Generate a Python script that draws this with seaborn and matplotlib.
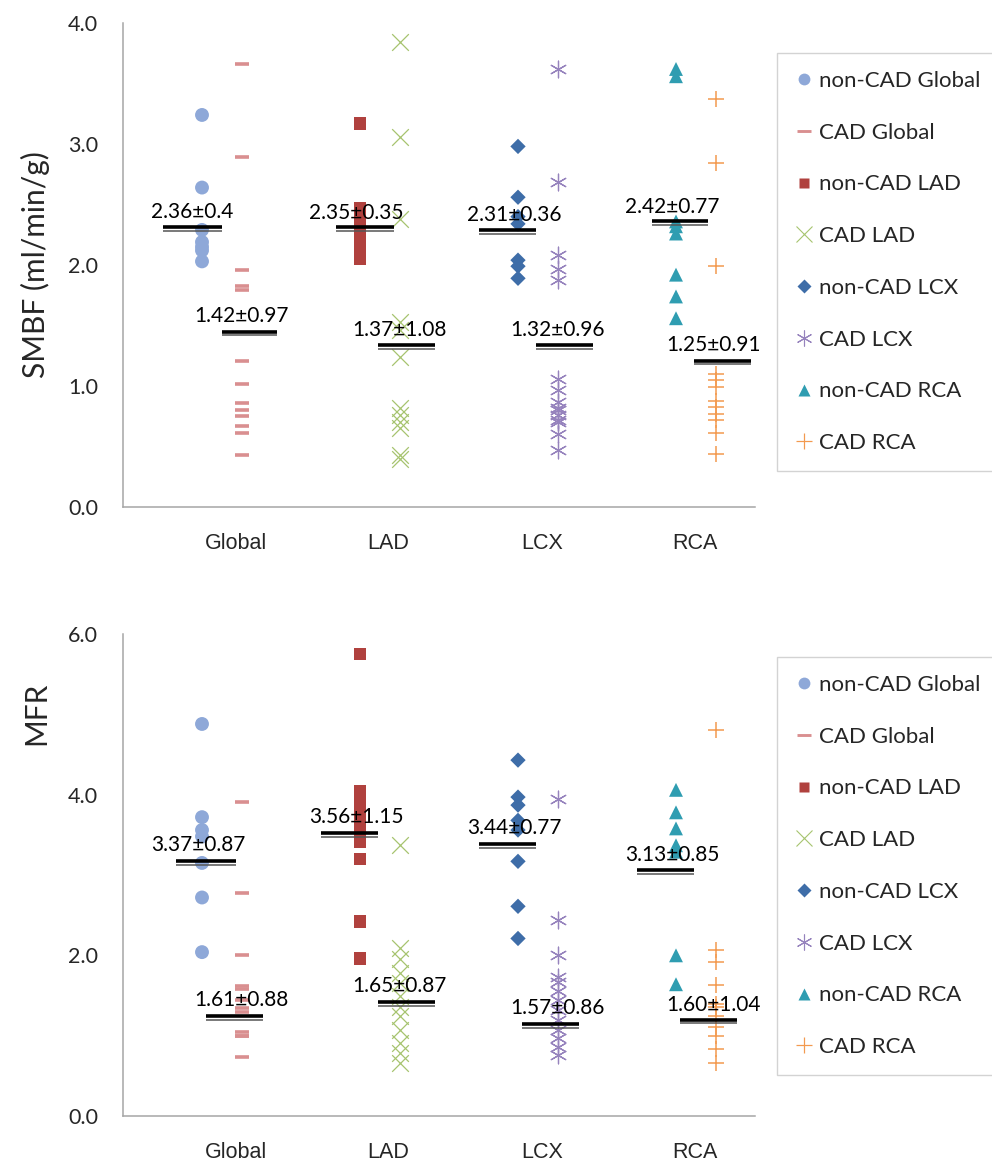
import numpy as np
import pandas as pd
import matplotlib
matplotlib.use("Agg")
import matplotlib.pyplot as plt
import seaborn as sns
from matplotlib.lines import Line2D
from matplotlib import transforms, font_manager
from matplotlib.ticker import FormatStrFormatter

# ---------------- data ----------------
categories = ["Global", "LAD", "LCX", "RCA"]
series_names = ["non-CAD Global", "CAD Global", "non-CAD LAD", "CAD LAD",
                "non-CAD LCX", "CAD LCX", "non-CAD RCA", "CAD RCA"]
series_x = [0.4, 0.6, 1.2, 1.4, 2.0, 2.2, 2.8, 3.0]

# SMBF (ml/min/g)
smbf_noncad_global = [3.24, 2.64, 2.29, 2.19, 2.15, 2.12, 2.03]
smbf_cad_global = [3.66, 2.89, 1.96, 1.83, 1.79, 1.21, 1.02, 0.86, 0.80, 0.75, 0.67, 0.61, 0.43]
smbf_noncad_lad = [3.17, 2.47, 2.40, 2.33, 2.28, 2.22, 2.16, 2.10, 2.05]
smbf_cad_lad = [3.84, 3.06, 2.38, 1.53, 1.46, 1.24, 0.82, 0.76, 0.70, 0.65, 0.43, 0.40]
smbf_noncad_lcx = [2.98, 2.56, 2.40, 2.34, 2.04, 1.99, 1.89]
smbf_cad_lcx = [3.62, 2.69, 2.08, 1.97, 1.88, 1.06, 0.97, 0.87, 0.82, 0.80, 0.76, 0.72, 0.70, 0.60, 0.47]
smbf_noncad_rca = [3.62, 3.56, 2.36, 2.32, 2.26, 1.92, 1.74, 1.56]
smbf_cad_rca = [3.37, 2.84, 1.99, 1.10, 1.05, 0.99, 0.88, 0.83, 0.77, 0.72, 0.61, 0.44]
smbf_stat_labels = ["2.36±0.4", "1.42±0.97", "2.35±0.35", "1.37±1.08",
                    "2.31±0.36", "1.32±0.96", "2.42±0.77", "1.25±0.91"]
smbf_mean_marks = [2.31, 1.45, 2.31, 1.34, 2.29, 1.34, 2.36, 1.21]

# MFR
mfr_noncad_global = [4.88, 3.72, 3.56, 3.48, 3.15, 2.72, 2.04]
mfr_cad_global = [3.91, 2.77, 2.00, 1.62, 1.58, 1.44, 1.34, 1.30, 1.05, 1.00, 0.99, 0.74]
mfr_noncad_lad = [5.75, 4.05, 3.97, 3.85, 3.71, 3.56, 3.41, 3.20, 2.42, 1.96]
mfr_cad_lad = [3.37, 2.09, 1.96, 1.78, 1.65, 1.49, 1.36, 1.24, 1.07, 0.91, 0.78, 0.66]
mfr_noncad_lcx = [4.43, 3.97, 3.87, 3.68, 3.56, 3.17, 2.61, 2.21]
mfr_cad_lcx = [3.95, 2.44, 2.00, 1.73, 1.67, 1.55, 1.44, 1.32, 1.20, 1.07, 0.97, 0.86, 0.76]
mfr_noncad_rca = [4.06, 3.78, 3.58, 3.37, 3.29, 2.00, 1.64]
mfr_cad_rca = [4.81, 2.07, 1.92, 1.63, 1.40, 1.36, 1.24, 1.11, 0.99, 0.84, 0.66]
mfr_stat_labels = ["3.37±0.87", "1.61±0.88", "3.56±1.15", "1.65±0.87",
                   "3.44±0.77", "1.57±0.86", "3.13±0.85", "1.60±1.04"]
mfr_mean_marks = [3.17, 1.24, 3.52, 1.42, 3.39, 1.15, 3.06, 1.20]

smbf_values = [smbf_noncad_global, smbf_cad_global, smbf_noncad_lad, smbf_cad_lad,
               smbf_noncad_lcx, smbf_cad_lcx, smbf_noncad_rca, smbf_cad_rca]
mfr_values = [mfr_noncad_global, mfr_cad_global, mfr_noncad_lad, mfr_cad_lad,
              mfr_noncad_lcx, mfr_cad_lcx, mfr_noncad_rca, mfr_cad_rca]

# ---------------- styles / layout ----------------
colors = ["#8EA8D8", "#D98F90", "#B0413E", "#A6C46F",
          "#3E6DA8", "#9683BD", "#2F9DB1", "#F39A4F"]
markers = ["o", "_", "s", "x", "D", (6, 2, 0), "^", "+"]
msizes = [10.0, 10.5, 8.8, 12.0, 7.8, 12.0, 10.0, 11.5]   # points
mlw = [0, 2.6, 0, 0.9, 0, 0.9, 0, 1.1]

cat_label_pos = [0.57, 1.345, 2.12, 2.895]
smbf_line_spans = [(0.20, 0.50), (0.50, 0.78), (1.08, 1.37), (1.29, 1.58),
                   (1.80, 2.09), (2.09, 2.38), (2.68, 2.96), (2.89, 3.18)]
mfr_line_spans = [(0.27, 0.57), (0.42, 0.71), (1.00, 1.29), (1.29, 1.58),
                  (1.80, 2.09), (2.02, 2.31), (2.60, 2.89), (2.82, 3.11)]
smbf_text_pos = [(0.35, 2.44), (0.60, 1.58), (1.18, 2.43), (1.40, 1.46),
                 (1.98, 2.41), (2.20, 1.46), (2.78, 2.48), (2.99, 1.34)]
mfr_text_pos = [(0.38, 3.37), (0.60, 1.44), (1.18, 3.72), (1.40, 1.62),
                (1.98, 3.58), (2.20, 1.34), (2.78, 3.25), (2.99, 1.38)]

sns.set_theme(style="white")
plt.rcParams["font.family"] = ["Lato", "DejaVu Sans"]
installed = {f.name for f in font_manager.fontManager.ttflist}
narrow = "Liberation Sans Narrow" if "Liberation Sans Narrow" in installed else "Liberation Sans"

spine_col = "#A6A6A6"

W, H = 992, 1165
fig = plt.figure(figsize=(W / 100, H / 100), dpi=100)
ax1 = fig.add_axes([123 / W, 1 - 507 / H, 632 / W, 484 / H])
ax2 = fig.add_axes([123 / W, 1 - 1116 / H, 632 / W, 482 / H])


def draw_panel(ax, values, stat_labels, mean_marks, spans, text_pos, ylim, yticks,
               ylabel, ylabel_y, legend_top):
    frames = []
    for name, xv, vals in zip(series_names, series_x, values):
        frames.append(pd.DataFrame({"x": [xv] * len(vals), "value": vals, "series": name}))
    df = pd.concat(frames, ignore_index=True)

    for i, name in enumerate(series_names):
        sub = df[df["series"] == name]
        m = markers[i]
        filled = matplotlib.markers.MarkerStyle(m).is_filled()
        kw = dict(data=sub, x="x", y="value", ax=ax, marker=m, s=msizes[i] ** 2,
                  color=colors[i], zorder=3, legend=False)
        if filled:
            kw.update(edgecolor="none", linewidth=0)
        else:
            kw.update(linewidth=mlw[i])
        sns.scatterplot(**kw)

    offset = transforms.offset_copy(ax.transData, fig=fig, y=-2.8, units="points")
    for (x0, x1), yv in zip(spans, mean_marks):
        ax.plot([x0, x1], [yv, yv], color="black", lw=2.6, solid_capstyle="butt", zorder=4)
        ax.plot([x0, x1], [yv, yv], color="#555555", lw=1.1, solid_capstyle="butt",
                transform=offset, zorder=4)
    for (tx, ty), lab in zip(text_pos, stat_labels):
        ax.text(tx, ty, lab, ha="center", va="center", fontsize=15, color="black", zorder=5)

    ax.set_xlim(0, 3.2)
    ax.set_ylim(*ylim)
    ax.set_yticks(yticks)
    ax.yaxis.set_major_formatter(FormatStrFormatter("%.1f"))
    ax.set_xticks([0, 1, 2, 3])
    ax.set_xticklabels([])
    ax.set_xticks(cat_label_pos, minor=True)
    ax.set_xticklabels(categories, minor=True, fontsize=15.5, family=narrow)
    ax.tick_params(axis="x", which="minor", length=0, pad=19)
    ax.tick_params(axis="x", which="major", length=6, width=1, color=spine_col, direction="out")
    ax.tick_params(axis="y", which="major", length=6, width=1, color=spine_col,
                   direction="out", pad=12, labelsize=15.5)
    for s in ["top", "right"]:
        ax.spines[s].set_visible(False)
    for s in ["left", "bottom"]:
        ax.spines[s].set_color(spine_col)
        ax.spines[s].set_linewidth(1.1)
    ax.set_xlabel("")
    ax.set_ylabel(ylabel, fontsize=21.5)
    ax.yaxis.set_label_coords(-0.115, ylabel_y)
    ax.grid(False)

    handles = []
    for i, name in enumerate(series_names):
        m = markers[i]
        filled = matplotlib.markers.MarkerStyle(m).is_filled()
        if filled:
            h = Line2D([], [], linestyle="none", marker=m, markersize=msizes[i] * 0.85,
                       markerfacecolor=colors[i], markeredgecolor="none", label=name)
        else:
            h = Line2D([], [], linestyle="none", marker=m, markersize=msizes[i] * 0.95,
                       color=colors[i], markeredgewidth=max(mlw[i] * 0.8, 0.8), label=name)
        handles.append(h)
    leg = ax.legend(handles=handles, loc="upper left",
                    bbox_to_anchor=(777 / W, 1 - legend_top / H),
                    bbox_transform=fig.transFigure, frameon=True, fancybox=False,
                    edgecolor="#C8C8C8", fontsize=16, labelspacing=1.43,
                    handlelength=0.8, handletextpad=0.3, borderpad=0.8,
                    borderaxespad=0)
    leg.get_frame().set_linewidth(1.0)


draw_panel(ax1, smbf_values, smbf_stat_labels, smbf_mean_marks, smbf_line_spans,
           smbf_text_pos, (0, 4), [0, 1, 2, 3, 4], "SMBF (ml/min/g)", 0.5, 53)
draw_panel(ax2, mfr_values, mfr_stat_labels, mfr_mean_marks, mfr_line_spans,
           mfr_text_pos, (0, 6), [0, 2, 4, 6], "MFR", 0.836, 657)

fig.savefig("out.png", dpi=100, facecolor="white")
